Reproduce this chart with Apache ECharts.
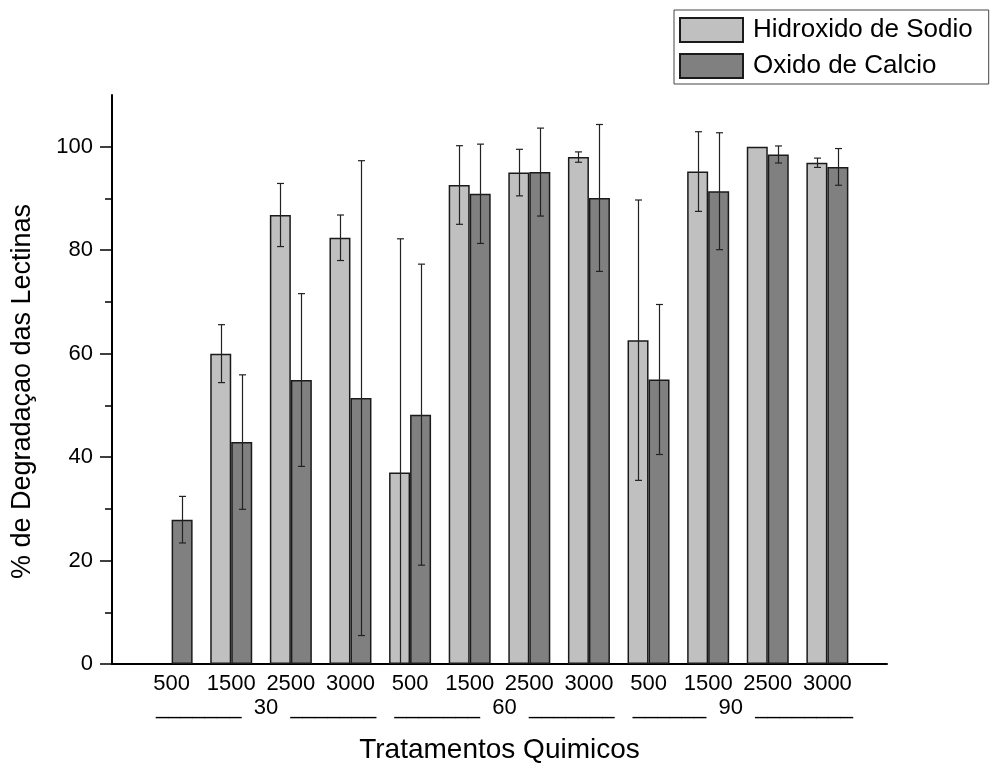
<!DOCTYPE html>
<html><head><meta charset="utf-8">
<script src="https://cdn.jsdelivr.net/npm/echarts@6/dist/echarts.min.js"></script>
<style>html,body{margin:0;padding:0;background:#fff}#c{width:998px;height:767px}</style>
</head><body><div id="c"></div>
<script>
// ---- data ----
const concLabels = ['500','1500','2500','3000','500','1500','2500','3000','500','1500','2500','3000'];
const groupLabels = ['_______  30  _______', '_______  60  _______', '______  90  ________'];
const groupSize = 4;
const yTickValues = [0, 20, 40, 60, 80, 100];
const yMinorValues = [10, 30, 50, 70, 90];
const seriesNames = ['Hidroxido de Sodio', 'Oxido de Calcio'];
const sodio    = [null, 60.0, 86.8, 82.4, 37.0, 92.6, 95.0, 98.0, 62.6, 95.2, 100.0, 96.9];
const sodioErr = [0,     5.6,  6.1,  4.4, 45.2,  7.6,  4.5,  1.0, 27.1,  7.7,   0.0,  0.9];
const calcio    = [27.9, 42.9, 54.9, 51.4, 48.2, 90.9, 95.1, 90.1, 55.0, 91.4, 98.5, 96.1];
const calcioErr = [ 4.5, 13.0, 16.7, 45.9, 29.1,  9.6,  8.5, 14.2, 14.5, 11.3,  1.65, 3.55];

// ---- chart ----
const FONT = 'Liberation Sans, Arial, sans-serif';
const BAR_W = 21;
const nCat = concLabels.length;
const xMax = nCat + 1;
const groupCenters = groupLabels.map((_, g) => g * groupSize + 1 + (groupSize - 1) / 2);
const catPositions = concLabels.map((_, i) => i + 1);

function errSeries(name, vals, errs, sign) {
  return {
    type: 'custom', name: name + ' err', z: 5, silent: true,
    xAxisIndex: 0, yAxisIndex: 0,
    data: vals.map((v, i) => [i + 1, v == null ? 0 : v, v == null ? 0 : errs[i]]),
    renderItem: function (params, api) {
      const x = api.value(0), v = api.value(1), e = api.value(2);
      if (!e) return null;
      const top = api.coord([x, v + e]);
      const lowV = Math.max(0, v - e);
      const bot = api.coord([x, lowV]);
      const cx = Math.round(top[0] + sign * BAR_W / 2) + 0.5;
      const st = { stroke: '#222', lineWidth: 1.2 };
      const cw = 3.5;
      const ch = [
        { type: 'line', shape: { x1: cx, y1: top[1], x2: cx, y2: bot[1] }, style: st },
        { type: 'line', shape: { x1: cx - cw, y1: top[1], x2: cx + cw, y2: top[1] }, style: st }
      ];
      if (v - e >= 0) ch.push({ type: 'line', shape: { x1: cx - cw, y1: bot[1], x2: cx + cw, y2: bot[1] }, style: st });
      return { type: 'group', children: ch };
    }
  };
}

const chart = echarts.init(document.getElementById('c'), null, { renderer: 'canvas' });
chart.setOption({
  animation: false,
  backgroundColor: '#fff',
  textStyle: { fontFamily: FONT, color: '#000' },
  grid: { left: 112, right: 111, top: 95, bottom: 103, containLabel: false, outerBoundsMode: 'none' },
  legend: {
    data: seriesNames,
    orient: 'vertical', left: 674, top: 10,
    borderColor: '#444', borderWidth: 1,
    padding: [7, 16, 5, 5],
    itemWidth: 63, itemHeight: 24, itemGap: 10,
    icon: 'rect',
    textStyle: { fontFamily: FONT, fontSize: 26, color: '#000', lineHeight: 24, padding: [0, 0, 0, 5] }
  },
  xAxis: [{
    type: 'value', min: 0, max: xMax, interval: 1,
    name: 'Tratamentos Quimicos', nameLocation: 'middle', nameGap: 72,
    nameTextStyle: { fontFamily: FONT, fontSize: 28, color: '#000' },
    axisLine: { show: true, onZero: false, lineStyle: { color: '#000', width: 2 } },
    axisTick: { show: false },
    splitLine: { show: false },
    axisLabel: {
      customValues: catPositions, margin: 9,
      fontFamily: FONT, fontSize: 22, color: '#000',
      formatter: v => concLabels[Math.round(v) - 1] || ''
    }
  }, {
    type: 'value', min: 0, max: xMax, position: 'bottom',
    axisLine: { show: false }, axisTick: { show: false }, splitLine: { show: false },
    axisLabel: {
      customValues: groupCenters, margin: 33,
      fontFamily: FONT, fontSize: 22, color: '#000', padding: [0, 0, 0, 10],
      formatter: v => { const g = groupCenters.indexOf(v); return g >= 0 ? groupLabels[g] : ''; }
    }
  }],
  yAxis: [{
    type: 'value', min: 0, max: 110, interval: 10,
    name: '% de Degradaçao das Lectinas', nameLocation: 'middle', nameGap: 76,
    nameTextStyle: { fontFamily: FONT, fontSize: 27, color: '#000', padding: [0, 24, 0, 0] },
    axisLine: { show: true, lineStyle: { color: '#000', width: 2 } },
    axisTick: { show: true, customValues: yTickValues, length: 12, lineStyle: { color: '#000', width: 1.5 } },
    splitLine: { show: false },
    axisLabel: { customValues: yTickValues, margin: 19, fontFamily: FONT, fontSize: 22, color: '#000' }
  }, {
    type: 'value', min: 0, max: 110, position: 'left',
    axisLine: { show: false },
    axisTick: { show: true, customValues: yMinorValues, length: 7, lineStyle: { color: '#000', width: 1.5 } },
    axisLabel: { show: false },
    splitLine: { show: false }
  }],
  series: [{
    type: 'bar', name: seriesNames[0], xAxisIndex: 0, yAxisIndex: 0,
    barWidth: BAR_W, barGap: '0%',
    itemStyle: { color: '#c0c0c0', borderColor: '#1a1a1a', borderWidth: 1.5 },
    data: sodio.map((v, i) => [i + 1, v == null ? '-' : v])
  }, {
    type: 'bar', name: seriesNames[1], xAxisIndex: 0, yAxisIndex: 0,
    barWidth: BAR_W, barGap: '0%',
    itemStyle: { color: '#808080', borderColor: '#1a1a1a', borderWidth: 1.5 },
    data: calcio.map((v, i) => [i + 1, v])
  },
  errSeries(seriesNames[0], sodio, sodioErr, -1),
  errSeries(seriesNames[1], calcio, calcioErr, 1)
  ]
});
</script>
</body></html>
